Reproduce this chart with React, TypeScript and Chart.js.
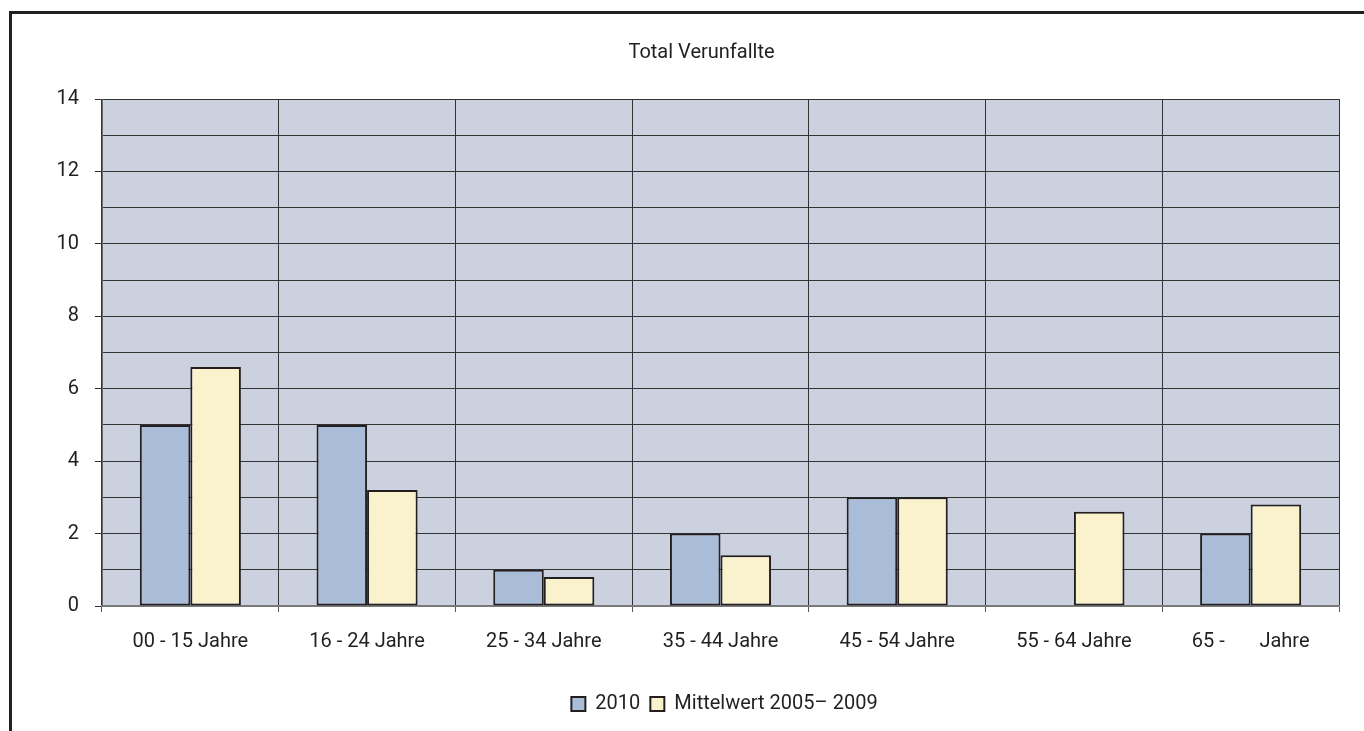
import React, { useEffect, useRef } from "react";
import { Chart, registerables } from "chart.js";

Chart.register(...registerables);

const categories = [
  "00 - 15 Jahre",
  "16 - 24 Jahre",
  "25 - 34 Jahre",
  "35 - 44 Jahre",
  "45 - 54 Jahre",
  "55 - 64 Jahre",
  "65 -       Jahre",
];
const values2010: (number | null)[] = [5, 5, 1, 2, 3, null, 2];
const valuesMittel: number[] = [6.6, 3.2, 0.8, 1.4, 3, 2.6, 2.8];
const seriesNames = ["2010", "Mittelwert 2005\u2013 2009"];
const chartTitle = "Total Verunfallte";
const yMin = 0;
const yMax = 14;

const FONT = "Roboto, 'Liberation Sans', sans-serif";
const TEXT = "#231f20";

const plotBg = {
  id: "plotBg",
  afterLayout(chart: any) {
    // the reference centres title and legend to the right of the plot centre
    if (chart.titleBlock) {
      chart.titleBlock.left += 32;
      chart.titleBlock.right += 32;
    }
    if (chart.legend) {
      chart.legend.left += 55;
      chart.legend.right += 55;
    }
  },
  beforeDraw(chart: any) {
    const { ctx, chartArea } = chart;
    ctx.save();
    ctx.fillStyle = "#cbd1df";
    ctx.fillRect(
      chartArea.left,
      chartArea.top,
      chartArea.right - chartArea.left,
      chartArea.bottom - chartArea.top
    );
    ctx.restore();
  },
};

export default function App() {
  const ref = useRef<HTMLCanvasElement | null>(null);

  useEffect(() => {
    if (!ref.current) return;
    const chart = new Chart(ref.current, {
      type: "bar",
      data: {
        labels: categories,
        datasets: [
          {
            label: seriesNames[0],
            data: values2010,
            backgroundColor: "#a9bdd8",
            borderColor: "#231f20",
            borderWidth: 2,
            borderSkipped: false,
          },
          {
            label: seriesNames[1],
            data: valuesMittel,
            backgroundColor: "#faf2cd",
            borderColor: "#231f20",
            borderWidth: 2,
            borderSkipped: false,
          },
        ],
      },
      options: {
        responsive: false,
        animation: false,
        devicePixelRatio: 1,
        layout: { padding: { left: 0, right: 25, top: 6, bottom: 7 } },
        datasets: {
          bar: { barPercentage: 1, categoryPercentage: 0.572 },
        },
        plugins: {
          title: {
            display: true,
            text: chartTitle,
            color: TEXT,
            font: { family: FONT, size: 20, weight: "normal" },
            padding: { top: 35, bottom: 34 },
          },
          legend: {
            position: "bottom",
            labels: {
              color: TEXT,
              font: { family: FONT, size: 20 },
              boxWidth: 14,
              boxHeight: 14,
              padding: 10,
            },
          },
          tooltip: { enabled: false },
        },
        scales: {
          x: {
            grid: {
              offset: true,
              color: "#333",
              lineWidth: 1,
              tickLength: 6,
              tickColor: "#555",
            },
            border: { color: "#7a7a7a", width: 2 },
            ticks: {
              color: TEXT,
              font: { family: FONT, size: 20 },
              padding: 18,
              maxRotation: 0,
              autoSkip: false,
            },
            afterFit(scale: any) {
              scale.height = 78;
            },
          },
          y: {
            min: yMin,
            max: yMax,
            grid: {
              color: "#333",
              lineWidth: 1,
              tickLength: 7,
              tickColor: (ctx: any) =>
                ctx.tick && ctx.tick.value % 2 === 0 ? "#333" : "rgba(0,0,0,0)",
            },
            border: { color: "#6a6a6a", width: 1 },
            ticks: {
              stepSize: 1,
              autoSkip: false,
              color: TEXT,
              font: { family: FONT, size: 20 },
              padding: 16,
              callback: (v: any) => (Number(v) % 2 === 0 ? String(v) : ""),
            },
            afterFit(scale: any) {
              scale.width = 102;
            },
          },
        },
      },
      plugins: [plotBg],
    });
    return () => chart.destroy();
  }, []);

  return (
    <div
      style={{
        position: "fixed",
        left: 0,
        top: 0,
        width: 1364,
        height: 731,
        background: "#fff",
        overflow: "hidden",
      }}
    >
      <canvas ref={ref} width={1364} height={731} style={{ display: "block" }} />
      <div
        style={{
          position: "absolute",
          left: 9,
          top: 11,
          width: 1400,
          height: 800,
          borderLeft: "3px solid #231f20",
          borderTop: "3px solid #231f20",
          pointerEvents: "none",
        }}
      />
    </div>
  );
}
